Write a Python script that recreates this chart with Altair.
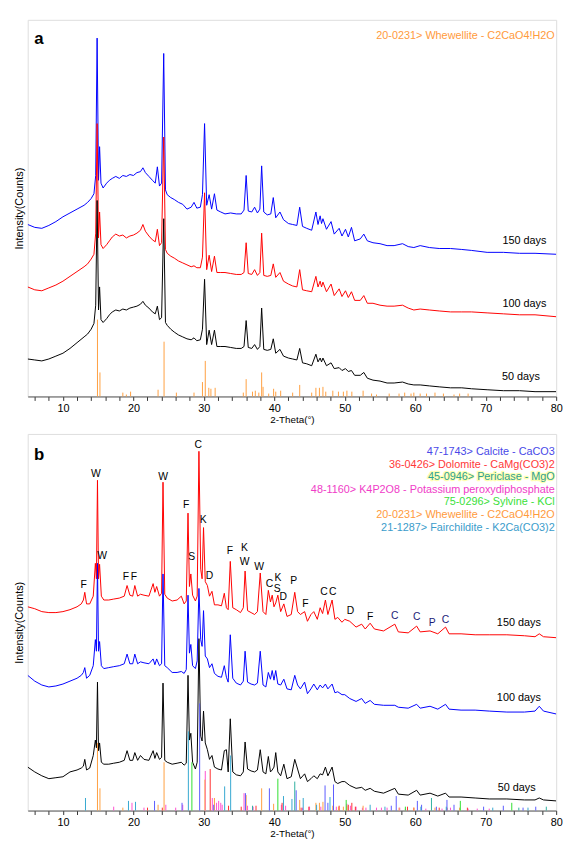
import altair as alt
import pandas as pd

FONT = "Liberation Sans"

# ---------------- Panel a data ----------------
A_X = [5, 6, 7, 8, 9, 10, 11, 12, 13, 13.5,
       14, 14.4, 14.65, 14.85, 15.05, 15.2, 15.4, 15.7, 16.2, 16.6,
       17.0, 17.5, 18.0, 18.5, 19.0, 19.5, 20.0, 20.5, 21.0, 21.35,
       21.7, 22.2, 22.7, 23.1, 23.4, 23.7, 24.0, 24.3, 24.55, 24.8,
       25.3, 25.8, 26.4, 27.0, 27.6, 28.2, 28.6, 29.0, 29.5, 29.8,
       30.1, 30.4, 30.75, 31.1, 31.5, 31.85, 32.4, 33.0, 33.8, 34.6,
       35.3, 35.7, 36.0, 36.3, 36.8, 37.2, 37.6, 37.95, 38.2, 38.5,
       39.0, 39.5, 39.85, 40.2, 40.8, 41.3, 42.0, 42.6, 43.2, 43.6,
       44.0, 44.6, 45.3, 45.9, 46.2, 46.5, 46.7, 46.9, 47.4, 48.05,
       48.5, 49.2, 49.6, 50.1, 50.5, 50.95, 51.4, 52.2, 52.7, 53.2,
       54.0, 55.0, 56.0, 57.0, 58.2, 59.0, 59.8, 60.7, 62.0, 63.4,
       65.0, 66.6, 68.0, 70.2, 72.5, 74.8, 77.0, 80]
A_150 = [179, 176, 175, 178, 182, 187, 191, 195, 199, 202,
         206, 211, 230, 373, 225, 260, 222, 217, 222, 225,
         227, 229, 227, 230, 229, 231, 230, 233, 234, 238,
         233, 229, 225, 222, 239, 219, 222, 357, 215, 210,
         207, 205, 202, 200, 195, 197, 202, 196, 197, 210,
         284, 199, 210, 195, 211, 194, 192, 190, 191, 190,
         190, 194, 230, 193, 192, 197, 191, 195, 240, 192,
         189, 190, 207, 186, 192, 184, 180, 179, 178, 197,
         177, 175, 173, 192, 179, 188, 180, 185, 174, 182,
         169, 175, 167, 174, 166, 176, 162, 164, 169, 162,
         160, 159, 157, 157, 159, 156, 155, 157, 155, 154,
         154, 153, 152, 150, 150, 149, 149, 148]
A_100 = [114, 111, 110, 113, 116, 120, 125, 130, 135, 138,
         143, 148, 170, 284, 165, 192, 158, 154, 158, 162,
         166, 169, 167, 168, 165, 167, 168, 170, 173, 179,
         172, 167, 163, 161, 174, 157, 160, 270, 153, 149,
         146, 144, 141, 139, 137, 135, 136, 134, 134, 145,
         212, 132, 147, 130, 146, 129, 129, 129, 128, 127,
         127, 129, 160, 128, 127, 132, 126, 129, 170, 126,
         125, 126, 138, 124, 129, 120, 117, 115, 114, 132,
         111, 110, 109, 125, 114, 120, 114, 119, 109, 117,
         105, 112, 104, 110, 103, 109, 100, 100, 105, 97,
         97, 95, 94, 94, 95, 92, 90, 91, 90, 89,
         88, 88, 88, 87, 86, 85, 85, 83]
A_50 = [39, 38, 37, 39, 42, 45, 50, 56, 62, 65,
        70, 76, 95, 204, 90, 114, 80, 77, 81, 85,
        88, 90, 89, 91, 90, 92, 93, 94, 96, 99,
        95, 92, 88, 86, 94, 80, 82, 185, 77, 74,
        70, 67, 64, 62, 60, 59, 61, 58, 59, 70,
        122, 54, 69, 54, 69, 52, 52, 52, 51, 50,
        50, 52, 79, 51, 50, 54, 49, 52, 92, 49,
        48, 49, 60, 45, 49, 42, 40, 39, 38, 50,
        35, 34, 32, 44, 36, 40, 36, 40, 32, 35,
        29, 30, 27, 29, 26, 27, 22, 22, 25, 19,
        17, 16, 14, 14, 15, 13, 12, 12, 11, 10,
        9, 9, 8, 7, 6, 6, 5, 5]

# Whewellite reference pattern (panel a)
WA_POS = [14.9, 15.25, 18.5, 19.0, 19.6, 23.5, 24.35, 26.1, 28.6, 29.8,
          30.2, 30.7, 31.0, 31.6, 35.6, 36.0, 36.9, 37.3, 37.8, 38.2,
          38.4, 39.2, 39.9, 40.2, 40.9, 42.6, 43.6, 45.3, 45.9, 46.4,
          46.9, 47.3, 48.3, 49.1, 49.8, 50.3, 51.0, 52.6, 53.8, 54.5,
          56.3, 57.7, 58.5, 59.4, 59.8, 60.7, 61.6, 62.8, 64.0, 65.5,
          66.3, 67.5]
WA_INT = [80, 25, 4, 2, 5, 7, 57, 4, 4, 15,
          37, 9, 8, 9, 4, 18, 5, 6, 4, 25,
          10, 3, 8, 5, 6, 4, 12, 4, 9, 9,
          10, 5, 6, 5, 5, 6, 5, 6, 3, 2,
          3, 3, 4, 3, 4, 3, 3, 4, 3, 2,
          3, 3]

# ---------------- Panel b data ----------------
B_X = [5, 6, 7, 8, 9, 10, 11, 12, 12.6, 12.9,
       13.1, 13.35, 13.8, 14.3, 14.6, 14.75, 14.9, 15.05, 15.2, 15.45,
       15.8, 16.5, 17.2, 18.0, 18.7, 19.1, 19.5, 19.9, 20.2, 20.6,
       21.0, 21.5, 22.2, 22.8, 23.05, 23.3, 23.7, 24.0, 24.2, 24.45,
       24.8, 25.5, 26.2, 26.8, 27.2, 27.5, 27.75, 27.95, 28.15, 28.4,
       28.8, 29.05, 29.3, 29.55, 29.75, 29.95, 30.2, 30.5, 30.8, 31.15,
       31.5, 32.0, 32.5, 32.9, 33.2, 33.45, 33.75, 34.1, 34.6, 35.2,
       35.6, 35.85, 36.2, 36.7, 37.2, 37.6, 38.0, 38.4, 38.8, 39.15,
       39.45, 39.7, 39.95, 40.2, 40.5, 40.9, 41.35, 41.8, 42.4, 42.9,
       43.3, 43.7, 44.3, 44.7, 45.2, 45.6, 46.1, 46.5, 46.85, 47.25,
       47.6, 48.2, 48.6, 49.0, 49.6, 50.0, 50.7, 51.6, 52.4, 52.9,
       53.6, 54.2, 55.5, 57.1, 57.6, 59.0, 60.2, 60.7, 62.1, 63.2,
       64.3, 64.8, 66.5, 68.5, 70.5, 73.0, 75.5, 77.0, 77.6, 78.2,
       80]
B_150 = [211, 209, 206, 205, 205, 206, 208, 211, 214, 218,
         226, 214, 214, 222, 256, 240, 342, 240, 255, 222,
         218, 218, 219, 220, 222, 233, 223, 222, 233, 222,
         224, 223, 222, 235, 226, 232, 222, 225, 340, 224,
         220, 217, 218, 222, 214, 217, 308, 232, 245, 223,
         217, 222, 372, 250, 240, 293, 237, 233, 222, 227,
         213, 213, 212, 225, 210, 208, 258, 210, 208, 205,
         210, 248, 207, 205, 203, 206, 246, 206, 203, 228,
         216, 223, 211, 215, 223, 206, 214, 201, 203, 226,
         206, 203, 206, 196, 203, 206, 198, 210, 204, 218,
         203, 218, 198, 200, 195, 198, 196, 190, 193, 188,
         194, 188, 186, 193, 185, 184, 191, 185, 186, 183,
         190, 183, 183, 182, 182, 182, 181, 180, 183, 180,
         179]
B_100 = [140, 134, 130, 128, 129, 131, 134, 137, 140, 143,
         148, 137, 140, 150, 177, 165, 256, 165, 175, 150,
         147, 148, 149, 150, 152, 162, 152, 152, 162, 152,
         154, 153, 152, 157, 151, 157, 150, 152, 245, 150,
         148, 143, 143, 144, 142, 146, 223, 163, 172, 150,
         147, 155, 230, 177, 170, 207, 160, 157, 148, 152,
         142, 139, 138, 150, 138, 133, 182, 137, 132, 130,
         134, 165, 133, 131, 130, 132, 165, 130, 128, 143,
         136, 145, 135, 145, 131, 130, 136, 126, 125, 140,
         130, 126, 133, 121, 126, 131, 125, 130, 127, 131,
         126, 131, 122, 123, 120, 120, 116, 113, 116, 111,
         114, 110, 109, 109, 107, 106, 110, 106, 108, 105,
         110, 105, 104, 104, 103, 102, 102, 103, 108, 103,
         100]
B_50 = [45, 40, 36, 33, 34, 35, 40, 42, 44, 46,
        53, 42, 44, 57, 73, 65, 133, 62, 70, 50,
        48, 48, 49, 50, 52, 62, 52, 52, 60, 52,
        57, 53, 52, 62, 54, 60, 53, 55, 132, 52,
        50, 48, 49, 50, 47, 49, 140, 73, 80, 50,
        43, 50, 178, 77, 72, 103, 70, 63, 53, 57,
        45, 43, 42, 62, 63, 40, 95, 40, 37, 36,
        40, 71, 43, 41, 40, 42, 63, 40, 38, 56,
        40, 42, 45, 60, 40, 36, 48, 33, 35, 53,
        43, 33, 38, 30, 33, 36, 33, 38, 37, 45,
        36, 45, 30, 28, 30, 30, 26, 23, 24, 21,
        23, 20, 18, 23, 17, 16, 21, 16, 18, 15,
        18, 14, 14, 13, 12, 12, 11, 11, 13, 11,
        10]

# Reference patterns (panel b)
CAL_POS = [23.0, 26.9, 29.4, 31.4, 35.9, 39.3, 43.1, 47.2, 47.6, 48.4,
           56.6, 57.3, 60.3, 60.9, 63.0, 64.5, 65.5, 69.7, 72.5, 75.3, 77.1]
CAL_INT = [10, 8, 111, 6, 18, 23, 21, 26, 8, 27,
           5, 15, 10, 6, 4, 11, 6, 4, 5, 3, 4]
DOL_POS = [22.0, 24.1, 30.9, 33.5, 35.3, 37.4, 41.1, 43.8, 44.9, 49.2,
           50.5, 51.0, 51.5, 58.9, 59.8, 63.4, 64.5, 67.4]
DOL_INT = [3, 3, 43, 5, 4, 5, 8, 3, 4, 5,
           6, 8, 4, 4, 3, 3, 3, 3]
PER_POS = [36.9, 42.9, 62.3, 74.7, 78.6]
PER_INT = [5, 30, 13, 3, 4]
KPO_POS = [17.2, 19.8, 21.5, 24.6, 26.0, 27.0, 30.2, 31.2, 31.8, 32.1,
           32.4, 32.6, 35.7, 36.2, 37.0, 41.0, 41.6, 44.0, 45.0, 46.6,
           48.8, 50.3, 50.8, 51.6, 52.5, 53.0, 54.5, 55.2, 56.0, 57.8,
           58.6, 61.5, 63.8, 65.0, 67.5, 68.8, 70.5]
KPO_INT = [4, 8, 3, 6, 3, 6, 41, 13, 8, 10,
           8, 6, 18, 5, 4, 6, 5, 3, 4, 4,
           4, 7, 5, 4, 3, 3, 3, 3, 3, 3,
           2, 2, 2, 3, 2, 2, 2]
SYL_POS = [28.3, 40.5, 50.2, 58.6, 66.4, 73.7]
SYL_INT = [50, 33, 11, 4, 10, 8]
WHE_POS = [14.9, 15.25, 18.5, 23.5, 24.35, 30.15, 31.5, 36.0, 38.2, 39.9,
           43.6, 45.9, 46.4, 46.9, 48.3, 49.1, 49.8, 50.3, 52.6, 57.7,
           59.8, 62.8, 66.3]
WHE_INT = [70, 23, 3, 6, 50, 32, 13, 16, 23, 7,
           11, 8, 8, 9, 5, 4, 4, 5, 5, 3,
           3, 3, 3]
FAI_POS = [13.2, 19.3, 20.3, 27.8, 32.95, 33.8, 41.3, 42.5, 44.1, 46.0,
           47.9, 53.6, 55.7, 60.8, 64.4, 71.0, 76.0]
FAI_INT = [13, 10, 9, 82, 25, 57, 15, 12, 13, 6,
           14, 6, 4, 4, 4, 3, 3]

PHASES = ["47-1743> Calcite - CaCO3",
          "36-0426> Dolomite - CaMg(CO3)2",
          "45-0946> Periclase - MgO",
          "48-1160> K4P2O8 - Potassium peroxydiphosphate",
          "75-0296> Sylvine - KCl",
          "20-0231> Whewellite - C2CaO4!H2O",
          "21-1287> Fairchildite - K2Ca(CO3)2"]
PHASE_TEXT_COLORS = ["#4848E8", "#FF3838", "#2E9E96", "#F03CC8", "#3ADF3A", "#FF9A3C", "#3A9CCB"]
PHASE_STICK_COLORS = ["#5A5AFF", "#FF3030", "#2EB0A0", "#FF50D0", "#30E030", "#FFA040", "#35A8D0"]

# peak letters (black ones, then the dark-navy ones at high angle)
LET_BLACK = ["W", "W", "F", "F", "F", "W", "F", "S", "C", "K", "D", "F", "K", "W", "W",
             "C", "K", "S", "D", "P", "F", "C", "C", "D", "F"]
LET_BLACK_X = [14.67, 15.57, 12.94, 18.94, 20.07, 24.2, 27.5, 28.26, 29.2, 29.9, 30.8, 33.68,
               35.76, 35.8, 37.85, 39.3, 40.5, 40.4, 41.26, 42.76, 44.4, 47.05, 48.3, 50.8,
               53.6]
LET_BLACK_Y = [348, 264, 234, 242, 242, 345, 316, 263, 378, 301, 243, 269,
               272, 257, 252, 235, 241, 229, 221, 238, 214, 226, 226, 207,
               200]
LET_NAVY = ["C", "C", "P", "C"]
LET_NAVY_X = [57.1, 60.2, 62.4, 64.3]
LET_NAVY_Y = [201, 200, 194, 197]

DAYS = ["150 days", "100 days", "50 days"]

# ---------------- helpers ----------------
W, H = 536, 382


def xenc():
    return alt.X("t:Q", scale=alt.Scale(domain=[5, 80], nice=False, zero=False),
                 axis=alt.Axis(values=list(range(6, 81, 2)),
                               labelExpr="datum.value % 10 == 0 ? datum.label : ''",
                               tickSize=4, labelFontSize=11, titleFontSize=10,
                               titleFontWeight="normal", grid=False,
                               domainColor="#555", tickColor="#333", labelColor="#000",
                               titleColor="#000", labelFont=FONT, titleFont=FONT,
                               titlePadding=1, labelPadding=2, labelFlush=False),
                 title="2-Theta(°)")


def yenc(ymax):
    return alt.Y("v:Q", scale=alt.Scale(domain=[0, ymax], nice=False, zero=True),
                 axis=alt.Axis(ticks=False, labels=False, domain=False, grid=False,
                               titleFontSize=11, titleFontWeight="normal", titleFont=FONT,
                               titleColor="#000", titlePadding=3),
                 title="Intensity(Counts)")


def curve(xs, ys, color, ymax):
    df = pd.DataFrame({"t": xs, "v": ys})
    return alt.Chart(df).mark_line(color=color, strokeWidth=1, clip=True).encode(
        x=xenc(), y=yenc(ymax))


def sticks(pos, inten, color, ymax):
    df = pd.DataFrame({"t": pos, "v": inten, "base": [0] * len(pos)})
    return alt.Chart(df).mark_rule(strokeWidth=1, color=color).encode(
        x=xenc(), y=yenc(ymax), y2="base:Q")


def texts(xs, ys, labels, color, ymax, size=11, align="center", weight="normal",
          stroke=None):
    df = pd.DataFrame({"t": xs, "v": ys, "lab": labels})
    kw = dict(fontSize=size, font=FONT, align=align, baseline="middle",
              fontWeight=weight, color=color)
    if stroke is not None:
        kw.update(stroke=stroke, strokeWidth=2.5, strokeJoin="round", strokeOpacity=0.9)
    return alt.Chart(df).mark_text(**kw).encode(x=xenc(), y=yenc(ymax), text="lab:N")


# ---------------- panel a ----------------
YA = 392
panel_a = alt.layer(
    curve(A_X, A_150, "#0000FF", YA),
    curve(A_X, A_100, "#FF0000", YA),
    curve(A_X, A_50, "#000000", YA),
    sticks(WA_POS, WA_INT, "#FFA040", YA),
    texts([75.5, 75.5, 75.0], [162, 96, 20], DAYS, "#000", YA),
    texts([6.6], [372], ["a"], "#000", YA, size=17, weight="bold"),
    texts([79.8], [375], [PHASES[5]], PHASE_TEXT_COLORS[5], YA, align="right"),
).properties(width=W, height=H)

# ---------------- panel b ----------------
YB = 390
legend_y = [371, 358, 345, 332, 319, 306, 293]
stick_sets = [(CAL_POS, CAL_INT), (DOL_POS, DOL_INT), (PER_POS, PER_INT),
              (KPO_POS, KPO_INT), (SYL_POS, SYL_INT), (WHE_POS, WHE_INT),
              (FAI_POS, FAI_INT)]
draw_order = [3, 1, 5, 0, 2, 4, 6]

layers_b = [
    curve(B_X, B_50, "#000000", YB),
    curve(B_X, B_150, "#FF0000", YB),
    curve(B_X, B_100, "#0000FF", YB),
]
for k in draw_order:
    p, i = stick_sets[k]
    layers_b.append(sticks(p, i, PHASE_STICK_COLORS[k], YB))
layers_b += [
    texts(LET_BLACK_X, LET_BLACK_Y, LET_BLACK, "#000", YB, size=10.5),
    texts(LET_NAVY_X, LET_NAVY_Y, LET_NAVY, "#1C1C78", YB, size=10.5),
    texts([74.7, 74.7, 74.4], [194, 116, 23], DAYS, "#000", YB),
    texts([6.6], [368], ["b"], "#000", YB, size=17, weight="bold"),
    texts([79.8], [legend_y[2]], [PHASES[2]], "#ffffa8", YB, align="right",
          stroke="#ffffa8"),
]
for k in range(7):
    layers_b.append(texts([79.8], [legend_y[k]], [PHASES[k]], PHASE_TEXT_COLORS[k], YB,
                          align="right"))

panel_b = alt.layer(*layers_b).properties(width=W, height=H)

chart = alt.vconcat(panel_a, panel_b, spacing=8).configure_view(
    stroke="#7a7a7a", strokeWidth=1
).configure(background="white")

chart.save("out.html", embed_options={"renderer": "svg", "actions": False})
